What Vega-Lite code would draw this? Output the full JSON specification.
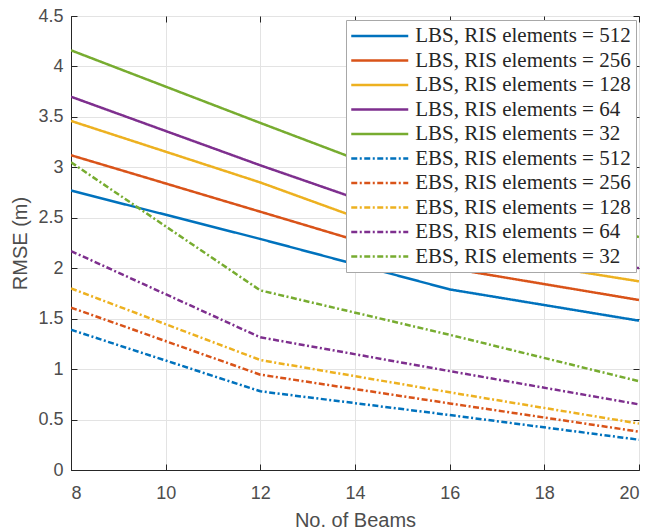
{
  "$schema": "https://vega.github.io/schema/vega-lite/v6.json",
  "width": 568,
  "height": 454,
  "autosize": {"type": "none"},
  "padding": {"left": 71, "top": 16, "right": 12, "bottom": 59},
  "background": "white",
  "config": {
    "view": {"stroke": "#262626", "strokeWidth": 1},
    "axis": {
      "labelFont": "Liberation Sans",
      "titleFont": "Liberation Sans",
      "labelFontSize": 18,
      "titleFontSize": 20,
      "titleFontWeight": "normal",
      "labelColor": "#4d4d4d",
      "titleColor": "#4d4d4d",
      "domainColor": "#262626",
      "tickColor": "#262626",
      "tickSize": -6,
      "gridColor": "#e3e3e3",
      "gridWidth": 1
    },
    "legend": {
      "title": null,
      "orient": "none",
      "legendX": 275,
      "legendY": 4,
      "symbolType": "M-3,0H3",
      "symbolSize": 361,
      "symbolStrokeWidth": 2.5,
      "symbolOffset": 17.75,
      "labelFont": "Liberation Serif",
      "labelFontSize": 21,
      "labelColor": "#262626",
      "labelOffset": 24.5,
      "labelLimit": 400,
      "rowPadding": 3.5,
      "padding": 5,
      "fillColor": "white",
      "strokeColor": "#a8a8a8"
    }
  },
  "data": {
    "values": [
      {"x": 8, "y": 2.77, "series": "LBS, RIS elements = 512"},
      {"x": 12, "y": 2.29, "series": "LBS, RIS elements = 512"},
      {"x": 16, "y": 1.79, "series": "LBS, RIS elements = 512"},
      {"x": 20, "y": 1.48, "series": "LBS, RIS elements = 512"},
      {"x": 8, "y": 3.12, "series": "LBS, RIS elements = 256"},
      {"x": 12, "y": 2.56, "series": "LBS, RIS elements = 256"},
      {"x": 16, "y": 2.0, "series": "LBS, RIS elements = 256"},
      {"x": 20, "y": 1.685, "series": "LBS, RIS elements = 256"},
      {"x": 8, "y": 3.46, "series": "LBS, RIS elements = 128"},
      {"x": 12, "y": 2.85, "series": "LBS, RIS elements = 128"},
      {"x": 16, "y": 2.17, "series": "LBS, RIS elements = 128"},
      {"x": 20, "y": 1.87, "series": "LBS, RIS elements = 128"},
      {"x": 8, "y": 3.7, "series": "LBS, RIS elements = 64"},
      {"x": 12, "y": 3.02, "series": "LBS, RIS elements = 64"},
      {"x": 16, "y": 2.37, "series": "LBS, RIS elements = 64"},
      {"x": 20, "y": 2.0, "series": "LBS, RIS elements = 64"},
      {"x": 8, "y": 4.16, "series": "LBS, RIS elements = 32"},
      {"x": 12, "y": 3.44, "series": "LBS, RIS elements = 32"},
      {"x": 16, "y": 2.73, "series": "LBS, RIS elements = 32"},
      {"x": 20, "y": 2.31, "series": "LBS, RIS elements = 32"},
      {"x": 8, "y": 1.39, "series": "EBS, RIS elements = 512"},
      {"x": 12, "y": 0.78, "series": "EBS, RIS elements = 512"},
      {"x": 16, "y": 0.545, "series": "EBS, RIS elements = 512"},
      {"x": 20, "y": 0.3, "series": "EBS, RIS elements = 512"},
      {"x": 8, "y": 1.61, "series": "EBS, RIS elements = 256"},
      {"x": 12, "y": 0.945, "series": "EBS, RIS elements = 256"},
      {"x": 16, "y": 0.66, "series": "EBS, RIS elements = 256"},
      {"x": 20, "y": 0.38, "series": "EBS, RIS elements = 256"},
      {"x": 8, "y": 1.8, "series": "EBS, RIS elements = 128"},
      {"x": 12, "y": 1.09, "series": "EBS, RIS elements = 128"},
      {"x": 16, "y": 0.77, "series": "EBS, RIS elements = 128"},
      {"x": 20, "y": 0.46, "series": "EBS, RIS elements = 128"},
      {"x": 8, "y": 2.17, "series": "EBS, RIS elements = 64"},
      {"x": 12, "y": 1.315, "series": "EBS, RIS elements = 64"},
      {"x": 16, "y": 0.98, "series": "EBS, RIS elements = 64"},
      {"x": 20, "y": 0.65, "series": "EBS, RIS elements = 64"},
      {"x": 8, "y": 3.05, "series": "EBS, RIS elements = 32"},
      {"x": 12, "y": 1.78, "series": "EBS, RIS elements = 32"},
      {"x": 16, "y": 1.34, "series": "EBS, RIS elements = 32"},
      {"x": 20, "y": 0.88, "series": "EBS, RIS elements = 32"}
    ]
  },
  "resolve": {"axis": {"x": "independent", "y": "independent"}},
  "layer": [
    {
      "mark": {"type": "line", "strokeWidth": 2.5, "clip": true},
      "encoding": {
        "x": {
          "field": "x", "type": "quantitative",
          "scale": {"domain": [8, 20], "nice": false},
          "axis": {"values": [8, 10, 12, 14, 16, 18, 20], "title": "No. of Beams", "labelPadding": 20, "titlePadding": 8}
        },
        "y": {
          "field": "y", "type": "quantitative",
          "scale": {"domain": [0, 4.5], "nice": false},
          "axis": {"values": [0, 0.5, 1, 1.5, 2, 2.5, 3, 3.5, 4, 4.5], "format": "~g", "title": "RMSE (m)", "labelPadding": 14, "titlePadding": 7}
        },
        "color": {
          "field": "series", "type": "nominal",
          "scale": {
            "domain": ["LBS, RIS elements = 512", "LBS, RIS elements = 256", "LBS, RIS elements = 128", "LBS, RIS elements = 64", "LBS, RIS elements = 32", "EBS, RIS elements = 512", "EBS, RIS elements = 256", "EBS, RIS elements = 128", "EBS, RIS elements = 64", "EBS, RIS elements = 32"],
            "range": ["#0072BD", "#D95319", "#EDB120", "#7E2F8E", "#77AC30", "#0072BD", "#D95319", "#EDB120", "#7E2F8E", "#77AC30"]
          }
        },
        "strokeDash": {
          "field": "series", "type": "nominal",
          "scale": {
            "domain": ["LBS, RIS elements = 512", "LBS, RIS elements = 256", "LBS, RIS elements = 128", "LBS, RIS elements = 64", "LBS, RIS elements = 32", "EBS, RIS elements = 512", "EBS, RIS elements = 256", "EBS, RIS elements = 128", "EBS, RIS elements = 64", "EBS, RIS elements = 32"],
            "range": [[1, 0], [1, 0], [1, 0], [1, 0], [1, 0], [6, 2.5, 2, 2.5], [6, 2.5, 2, 2.5], [6, 2.5, 2, 2.5], [6, 2.5, 2, 2.5], [6, 2.5, 2, 2.5]]
          }
        },
        "order": {"field": "x", "type": "quantitative"}
      }
    },
    {
      "mark": {"type": "line", "strokeOpacity": 0, "opacity": 0},
      "encoding": {
        "x": {
          "field": "x", "type": "quantitative",
          "axis": {"orient": "top", "values": [8, 10, 12, 14, 16, 18, 20], "labels": false, "grid": false, "title": null, "domain": false}
        },
        "y": {
          "field": "y", "type": "quantitative",
          "axis": {"orient": "right", "values": [0, 0.5, 1, 1.5, 2, 2.5, 3, 3.5, 4, 4.5], "labels": false, "grid": false, "title": null, "domain": false}
        }
      }
    }
  ]
}
